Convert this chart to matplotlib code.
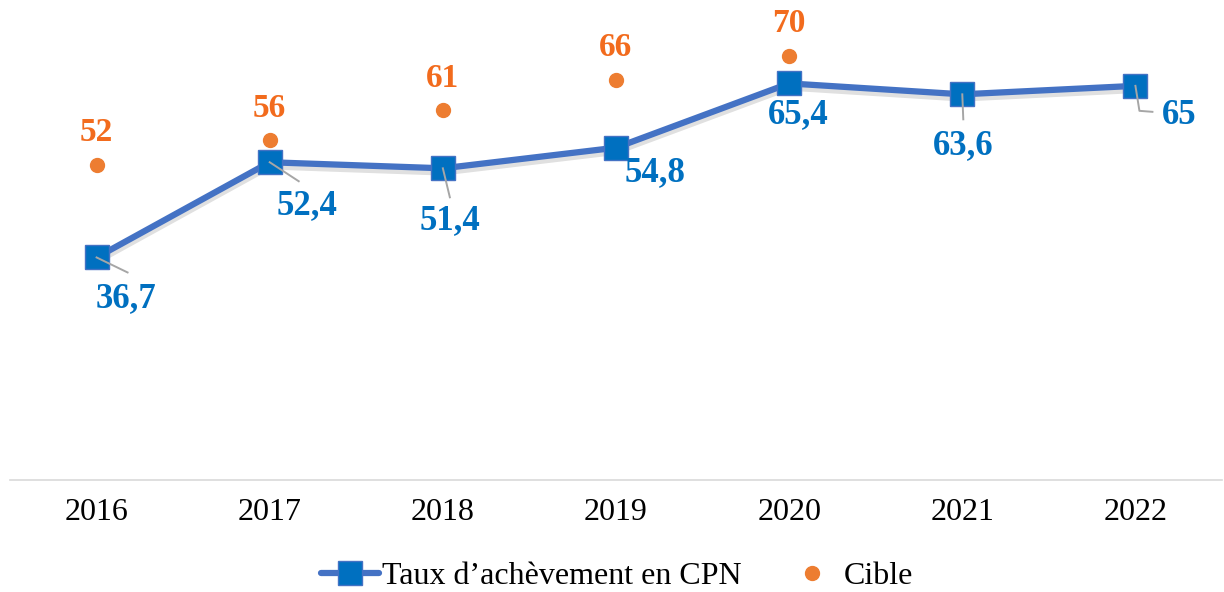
import matplotlib
matplotlib.use("Agg")
import matplotlib.pyplot as plt
import matplotlib.patheffects as pe
from matplotlib.transforms import IdentityTransform

LINE_BLUE = "#4472C4"
MARK_BLUE = "#0070C0"
DOT_ORANGE = "#ED7D31"
LABEL_ORANGE = "#F26B1D"
LEADER_GREY = "#A6A6A6"

years = ["2016", "2017", "2018", "2019", "2020", "2021", "2022"]
taux = [36.7, 52.4, 51.4, 54.8, 65.4, 63.6, 65]
taux_labels = ["36,7", "52,4", "51,4", "54,8", "65,4", "63,6", "65"]
cible = [52, 56, 61, 66, 70, None, None]

plt.rcParams["font.family"] = ["Liberation Serif", "DejaVu Serif"]

fig = plt.figure(figsize=(12.24, 5.92), dpi=100)
ax = fig.add_axes([10 / 1224, 112 / 592, 1212 / 1224, 473 / 592])

x = list(range(len(years)))
ax.set_xlim(-0.5, len(years) - 0.5)
ax.set_ylim(0, 78)

# line with soft shadow, then markers on top
ax.plot(x, taux, color=LINE_BLUE, linewidth=4.5, solid_capstyle="round",
        solid_joinstyle="round", zorder=3,
        path_effects=[pe.SimpleLineShadow(offset=(0, -3), alpha=0.12, shadow_color="k"),
                      pe.Normal()])
ax.plot(x, taux, linestyle="none", marker="s", markersize=17,
        markerfacecolor=MARK_BLUE, markeredgecolor=LINE_BLUE, markeredgewidth=1,
        zorder=4)
ax.plot([], [], color=LINE_BLUE, linewidth=4.5, marker="s", markersize=17,
        markerfacecolor=MARK_BLUE, markeredgecolor=LINE_BLUE, markeredgewidth=1,
        solid_capstyle="round", label="Taux d\u2019achèvement en CPN")

cx = [i for i, v in enumerate(cible) if v is not None]
cy = [v for v in cible if v is not None]
ax.plot(cx, cy, linestyle="none", marker="o", markersize=10,
        color=DOT_ORANGE, zorder=3, label="Cible")

# target labels above the dots
for i, v in zip(cx, cy):
    ax.annotate(str(v), xy=(i, v), xytext=(0, 32), textcoords="offset pixels",
                ha="center", va="center", fontsize=24, fontweight="bold",
                color=LABEL_ORANGE)

# data labels for the completion rate
offsets = [(29, -41), (37, -43), (7, -52), (39, -25), (9, -31), (1, -51), (44, -30)]
for i, (v, lab, off) in enumerate(zip(taux, taux_labels, offsets)):
    ax.annotate(lab, xy=(i, v), xytext=off, textcoords="offset pixels",
                ha="center", va="center", fontsize=25, fontweight="bold",
                color=MARK_BLUE, zorder=5)

# leader lines (pixel offsets from the marker centre)
leaders = {0: [(0, 0), (31, -15)], 1: [(0, 0), (29, -19)], 2: [(0, 0), (7, -29)],
           5: [(0, 0), (1, -25)], 6: [(0, 0), (4, -25), (17, -26)]}
for i, pts in leaders.items():
    px, py = ax.transData.transform((i, taux[i]))
    xs = [px + dx for dx, dy in pts]
    ys = [py + dy for dx, dy in pts]
    ax.plot(xs, ys, transform=IdentityTransform(), color=LEADER_GREY,
            linewidth=1.4, zorder=5, clip_on=False)

ax.set_xticks(x)
ax.set_xticklabels(years, fontsize=23)
ax.set_yticks([])
ax.tick_params(axis="x", length=0, pad=13)
for side in ["top", "left", "right"]:
    ax.spines[side].set_visible(False)
ax.spines["bottom"].set_color("#D9D9D9")
ax.spines["bottom"].set_linewidth(1.2)

ax.legend(loc="center", bbox_to_anchor=(0.501, -0.203), ncol=2, frameon=False,
          fontsize=23, handlelength=1.8, columnspacing=1.3, handletextpad=0.1,
          markerscale=1.0, borderpad=0, borderaxespad=0)

fig.savefig("out.png", dpi=100)
